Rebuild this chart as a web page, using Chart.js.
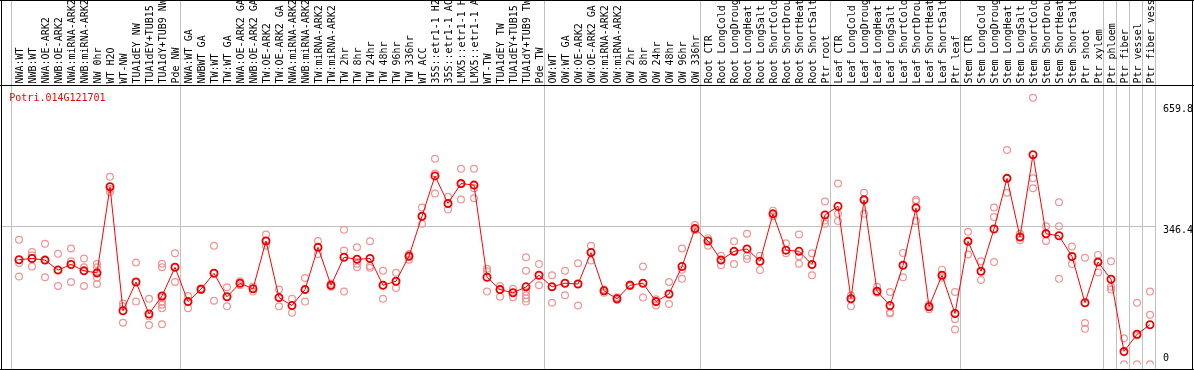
<!DOCTYPE html>
<html><head><meta charset="utf-8">
<style>html,body{margin:0;padding:0;background:#fff}#wrap{position:relative;width:1194px;height:370px}</style>
<script src="https://cdn.jsdelivr.net/npm/chart.js@4"></script>
</head><body><div id="wrap"><canvas id="c" width="1194" height="370"></canvas></div>
<script>
const geneId = "Potri.014G121701";
const categories = [
 "NWA:WT","NWB:WT","NWA:OE-ARK2","NWB:OE-ARK2","NWA:miRNA-ARK2","NWB:miRNA-ARK2","NW 0hr","WT H2O","WT-NW","TUA1dEY NW","TUA1dEY+TUB15","TUA1dY+TUB9 NW","Pde NW",
 "NWA:WT GA","NWBWT GA","TW:WT","TW:WT GA","NWA:OE-ARK2 GA","NWB:OE-ARK2 GA","TW:OE-ARK2","TW:OE-ARK2 GA","NWA:miRNA-ARK2","NWB:miRNA-ARK2","TW:miRNA-ARK2","TW:miRNA-ARK2","TW 2hr","TW 8hr","TW 24hr","TW 48hr","TW 96hr","TW 336hr","WT ACC","35S::etr1-1 H2","35S::etr1-1 AC","LMX5::etr1-1 H","LMX5::etr1-1 A","WT-TW","TUA1dEY TW","TUA1dEY+TUB15","TUA1dY+TUB9 TW","Pde TW",
 "OW:WT","OW:WT GA","OW:OE-ARK2","OW:OE-ARK2 GA","OW:miRNA-ARK2","OW:miRNA-ARK2","OW 2hr","OW 8hr","OW 24hr","OW 48hr","OW 96hr","OW 336hr",
 "Root CTR","Root LongCold","Root LongDroug","Root LongHeat","Root LongSalt","Root ShortCold","Root ShortDrou","Root ShortHeat","Root ShortSalt","Ptr root",
 "Leaf CTR","Leaf LongCold","Leaf LongDroug","Leaf LongHeat","Leaf LongSalt","Leaf ShortCold","Leaf ShortDrou","Leaf ShortHeat","Leaf ShortSalt","Ptr leaf",
 "Stem CTR","Stem LongCold","Stem LongDroug","Stem LongHeat","Stem LongSalt","Stem ShortCold","Stem ShortDrou","Stem ShortHeat","Stem ShortSalt","Ptr shoot","Ptr xylem",
 "Ptr phloem","Ptr fiber","Ptr vessel","Ptr fiber vess"
];
const meanValues = [
 262,265,261,236,250,234,229,445,134,206,126,171,243,
 157,188,228,169,203,189,309,167,147,187,293,198,268,263,265,198,208,271,371,472,403,453,449,218,187,179,194,223,
 194,203,201,280,184,164,198,203,157,176,245,340,
 309,261,283,289,258,377,286,283,250,374,
 396,164,412,183,147,248,392,144,223,127,
 308,233,339,466,319,525,327,322,270,154,256,
 213,32,75,99
];
const replicateValues = [
 [312,254,220],[281,273,245],[302,261,218],[277,236,196],[290,258,206],[265,243,196],[251,243,227,217,201],[470,439,432],[152,145,104],[255,206,157],[164,120,98],[252,243,167,157,149,140,100],[278,243,206],
 [171,157,140],[186,188,190],[297,228,159],[193,169,145],[208,203,198],[195,189,182],[325,309,297],[187,167,145],[164,147,129],[216,187,157],[309,293,276],[202,198,194],[337,285,182],[293,252,243],[308,246,242],[234,198,164],[229,208,191],[276,268,262],[393,371,352],[515,478,428],[420,403,388],[490,451,413],[490,441,416],[239,233,182],[196,187,169],[189,179,168],[268,234,194,182,173,165,157],[251,223,198],
 [223,194,154],[234,203,173],[253,201,147],[297,280,260],[187,184,179],[168,164,161],[196,198,200],[245,203,167],[163,157,147],[206,176,151],[290,237,214],[349,340,336],
 [316,309,297],[272,261,248],[308,283,251],[327,272,264],[272,258,236],[385,377,371],[303,286,278],[325,270,252],[278,250,223],[408,360,352],
 [453,377,359],[172,164,145],[430,412,377],[194,183,179],[181,130,127],[279,248,218],[412,408,359],[149,144,138],[237,223,217],[181,113,87],
 [332,308,275],[258,233,211],[393,369,256],[537,466,430],[327,319,311],[668,466,441],[346,327,309],[406,346,214],[295,270,251],[267,103,89],[274,256,230],
 [258,194,187],[65,30,0],[154,72,0],[182,124,0]
];
const yTickValues = [0, 346.4, 659.8];
const yTickLabels = ["0", "346.4", "659.8"];
const yGridValues = [346.4];
const groupBoundaries = [0, 13, 41, 53, 63, 73, 84, 85, 86, 87, 88];

const meanPoints = meanValues.map((v, i) => ({x: i, y: v}));
const repPoints = [];
replicateValues.forEach((arr, i) => arr.forEach(v => repPoints.push({x: i, y: v})));

const FONT = '10px "DejaVu Sans Mono", "Liberation Mono", monospace';

const decor = {
  id: 'decor',
  beforeDatasetsDraw(chart) {
    const ctx = chart.ctx, xs = chart.scales.x, ys = chart.scales.y;
    ctx.save();
    ctx.fillStyle = '#c0c0c0';
    groupBoundaries.forEach(k => {
      const px = Math.round(xs.getPixelForValue(k - 0.5) - 1.5);
      ctx.fillRect(px, 0, 1, 369);
    });
    const xEnd = Math.round(xs.getPixelForValue(categories.length - 0.5) - 1.5);
    yGridValues.forEach(v => {
      const gy = Math.round(ys.getPixelForValue(v));
      ctx.fillRect(1, gy, xEnd - 1, 1);
    });
    ctx.restore();
  },
  afterDraw(chart) {
    const ctx = chart.ctx, xs = chart.scales.x, ys = chart.scales.y, a = chart.chartArea;
    ctx.save();
    // category labels (rotated)
    ctx.font = FONT;
    ctx.fillStyle = '#000';
    ctx.textAlign = 'left';
    ctx.textBaseline = 'alphabetic';
    categories.forEach((lab, i) => {
      const px = xs.getPixelForValue(i);
      ctx.save();
      ctx.translate(px, 83.5);
      ctx.rotate(-Math.PI / 2);
      ctx.fillText(lab, 0, 3.6);
      ctx.restore();
    });
    // y tick labels on the right
    yTickValues.forEach((v, i) => {
      let top = ys.getPixelForValue(v);
      top = Math.max(top, a.top + 20);
      top = Math.min(top, a.bottom - 10.5);
      ctx.fillText(yTickLabels[i], 1163, top + 7.4);
    });
    // gene id
    ctx.fillStyle = '#ff0000';
    ctx.fillText(geneId, 9.3, 100.8);
    // frame
    ctx.fillStyle = '#000';
    ctx.fillRect(0, 0, 1194, 1);
    ctx.fillRect(0, 85, 1194, 1);
    ctx.fillRect(0, 369, 1194, 1);
    ctx.fillRect(1, 0, 1, 370);
    ctx.fillRect(1192, 0, 1, 370);
    ctx.restore();
  }
};

new Chart(document.getElementById('c'), {
  type: 'line',
  data: {
    datasets: [
      {
        label: 'mean',
        data: meanPoints,
        order: 0,
        borderColor: '#ff0000',
        borderWidth: 1,
        tension: 0,
        pointRadius: 3.6,
        pointBorderWidth: 1.8,
        pointBorderColor: '#ee0000',
        pointBackgroundColor: 'rgba(0,0,0,0)',
        fill: false
      },
      {
        label: 'replicates',
        data: repPoints,
        order: 1,
        showLine: false,
        pointRadius: 3.4,
        pointBorderWidth: 1.2,
        pointBorderColor: '#f09494',
        pointBackgroundColor: 'rgba(0,0,0,0)'
      }
    ]
  },
  options: {
    responsive: false,
    animation: false,
    devicePixelRatio: 1,
    layout: { padding: { left: 12.5, right: 37.5, top: 85, bottom: 1.5 } },
    plugins: { legend: { display: false }, tooltip: { enabled: false }, title: { display: false } },
    scales: {
      x: { type: 'linear', min: -0.5, max: categories.length - 0.5, display: false },
      y: { type: 'linear', min: 0, max: 700, display: false }
    }
  },
  plugins: [decor]
});
</script>
</body></html>
